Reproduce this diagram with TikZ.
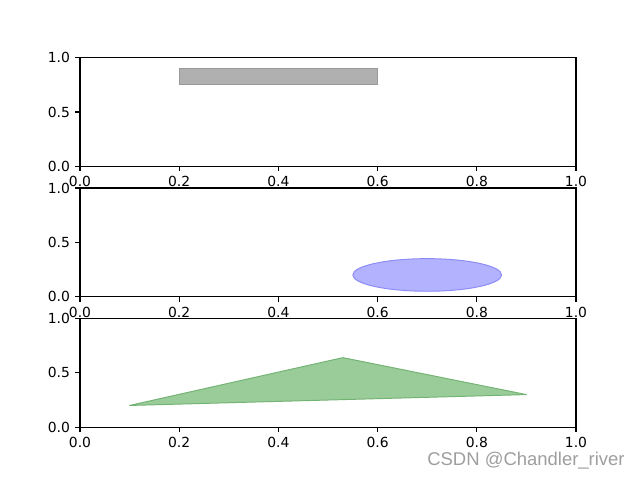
\documentclass[tikz,border=0pt]{standalone}
\usepackage{fontspec}
\setsansfont{DejaVu Sans}
\newfontfamily\markfont{Liberation Sans}
\usepackage{tikz}
\usetikzlibrary{calc}
\definecolor{rectgray}{HTML}{B0B0B0}
\definecolor{rectedge}{HTML}{999999}
\definecolor{ellblue}{HTML}{B2B2FF}
\definecolor{elledge}{HTML}{8C8CF5}
\definecolor{trigreen}{HTML}{99CC99}
\definecolor{triedge}{HTML}{73B373}

\tikzset{
  spine/.style={line width=0.8pt},
  tickmark/.style={line width=0.8pt},
  ticklabel/.style={inner sep=0pt,font=\sffamily\fontsize{10}{12}\selectfont},
}

\begin{document}
\begin{tikzpicture}[x=0.72pt,y=0.72pt]
  \useasboundingbox (0,0) rectangle (640,480);
  % three axes, same frame
  \foreach \name/\ybase in {top/313.7,mid/183.3,bot/52.8} {
    \begin{scope}[shift={(80,\ybase)},x=357.12pt,y=78.26pt]
      \draw[spine] (0,0) rectangle (1,1);
      \foreach \t/\lab in {0/0.0,0.2/0.2,0.4/0.4,0.6/0.6,0.8/0.8,1/1.0} {
        \draw[tickmark] (\t,0) -- ++(0,-3.5pt);
        \node[ticklabel,anchor=north] (\name-x\lab) at ([yshift=-7pt]\t,0) {\lab};
      }
      \foreach \t/\lab in {0/0.0,0.5/0.5,1/1.0} {
        \draw[tickmark] (0,\t) -- ++(-3.5pt,0);
        \node[ticklabel,anchor=east] (\name-y\lab) at ([xshift=-7pt]0,\t) {\lab};
      }
    \end{scope}
  }
  % rectangle
  \begin{scope}[shift={(80,313.7)},x=357.12pt,y=78.26pt]
    \filldraw[fill=rectgray,draw=rectedge,line width=0.7pt] (0.2,0.75) rectangle (0.6,0.9);
  \end{scope}
  % ellipse
  \begin{scope}[shift={(80,183.3)},x=357.12pt,y=78.26pt]
    \filldraw[fill=ellblue,draw=elledge,line width=0.7pt] (0.7,0.2) ellipse [x radius=0.15,y radius=0.15];
  \end{scope}
  % triangle
  \begin{scope}[shift={(80,52.8)},x=357.12pt,y=78.26pt]
    \filldraw[fill=trigreen,draw=triedge,line width=0.7pt,line join=round] (0.1,0.2) -- (0.53,0.64) -- (0.9,0.3) -- cycle;
  \end{scope}
  \node[text=black!38,font=\markfont\fontsize{13.3}{15}\selectfont,inner sep=0pt] (mark) at (526,19) {CSDN @Chandler\_river};
\end{tikzpicture}
\end{document}
